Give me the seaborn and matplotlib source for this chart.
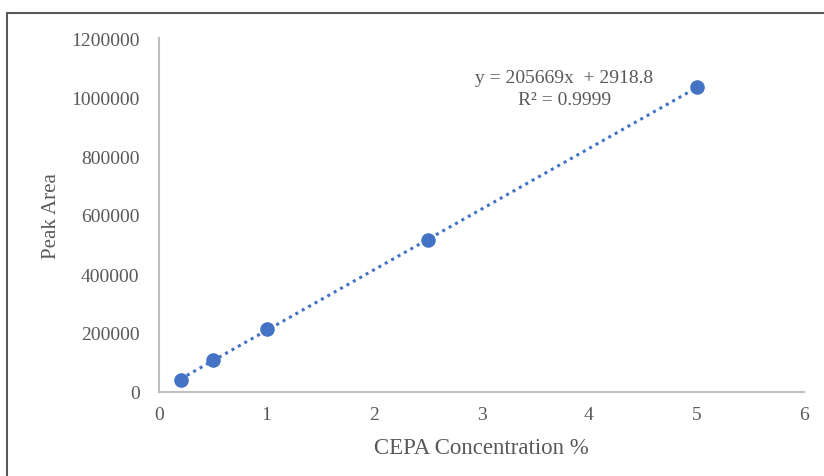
import matplotlib
matplotlib.use("Agg")
import matplotlib.pyplot as plt
import seaborn as sns
import numpy as np
import pandas as pd
from matplotlib.patches import Rectangle

conc = [0.2, 0.5, 1.0, 2.5, 5.0]
area = [42000, 108000, 212000, 515000, 1033000]
slope = 205669
intercept = 2918.8
eq_text = "y = 205669x  + 2918.8"
r2_text = "R² = 0.9999"
x_ticks = [0, 1, 2, 3, 4, 5, 6]
y_ticks = [0, 200000, 400000, 600000, 800000, 1000000, 1200000]

sns.set_theme(style="white")
plt.rcParams['font.family'] = ['Liberation Serif', 'DejaVu Serif']

blue = "#4472C4"
grey_txt = "#595959"

fig = plt.figure(figsize=(8.24, 4.77), dpi=100)
ax = fig.add_axes([159/824, (477-393)/477, (804-159)/824, (393-39)/477])

df = pd.DataFrame({"x": conc, "y": area})
xs = np.array([min(conc), max(conc)])
trend = pd.DataFrame({"x": xs, "y": slope * xs + intercept})
sns.lineplot(data=trend, x="x", y="y", ax=ax, color=blue, linewidth=2.2,
             linestyle=(0, (1, 1.4)), zorder=2)
sns.scatterplot(data=df, x="x", y="y", ax=ax, color=blue, s=110,
                edgecolor=blue, linewidth=0, zorder=3)

ax.set_xlim(0, 6)
ax.set_ylim(0, 1200000)
ax.set_xticks(x_ticks)
ax.set_yticks(y_ticks)
ax.set_xticklabels([str(t) for t in x_ticks])
ax.set_yticklabels([str(t) for t in y_ticks])
ax.tick_params(axis="both", length=0, labelsize=14, labelcolor=grey_txt)
ax.tick_params(axis="x", pad=10)
ax.tick_params(axis="y", pad=14)

for s in ["top", "right"]:
    ax.spines[s].set_visible(False)
for s in ["left", "bottom"]:
    ax.spines[s].set_color("#BFBFBF")
    ax.spines[s].set_linewidth(1.5)

ax.set_xlabel("CEPA Concentration %", fontsize=16.5, color=grey_txt, labelpad=10)
ax.set_ylabel("Peak Area", fontsize=15, color=grey_txt, labelpad=7)
ax.grid(False)

ax.text(3.77, 1066000, eq_text, fontsize=14, color=grey_txt, ha="center", va="center")
ax.text(3.77, 992000, r2_text, fontsize=14, color=grey_txt, ha="center", va="center")

fig.patches.append(Rectangle((7/824, -0.1), 1.2, (477-14)/477 + 0.1, transform=fig.transFigure,
                             fill=False, edgecolor="#595959", linewidth=1.5, zorder=10))

fig.savefig("out.png", dpi=100)
